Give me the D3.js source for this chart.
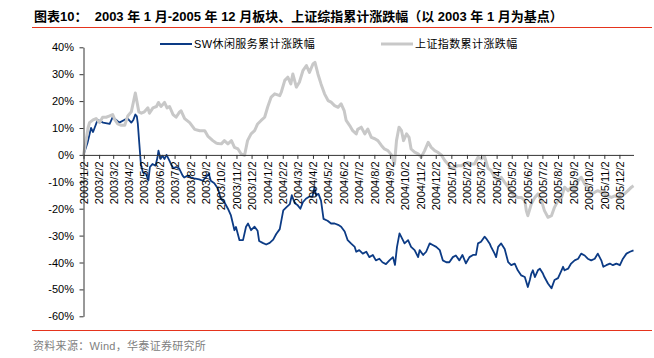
<!DOCTYPE html>
<html><head><meta charset="utf-8">
<script src="https://cdn.jsdelivr.net/npm/d3@7/dist/d3.min.js"></script>
<style>
html,body{margin:0;padding:0;background:#fff;}
svg{display:block;}
text{font-family:"Liberation Sans","Noto Sans CJK SC",sans-serif;}
</style></head>
<body>
<svg id="chart" width="654" height="358"></svg>
<script>
const titleText = "图表10：  2003 年 1 月-2005 年 12 月板块、上证综指累计涨跌幅（以 2003 年 1 月为基点）";
const sourceText = "资料来源：Wind，华泰证券研究所";
const seriesNames = ["SW休闲服务累计涨跌幅", "上证指数累计涨跌幅"];
const yTicks = [40, 30, 20, 10, 0, -10, -20, -30, -40, -50, -60];
const xTickLabels = ["2003/1/2","2003/2/2","2003/3/2","2003/4/2","2003/5/2","2003/6/2","2003/7/2","2003/8/2","2003/9/2","2003/10/2","2003/11/2","2003/12/2",
"2004/1/2","2004/2/2","2004/3/2","2004/4/2","2004/5/2","2004/6/2","2004/7/2","2004/8/2","2004/9/2","2004/10/2","2004/11/2","2004/12/2",
"2005/1/2","2005/2/2","2005/3/2","2005/4/2","2005/5/2","2005/6/2","2005/7/2","2005/8/2","2005/9/2","2005/10/2","2005/11/2","2005/12/2"];

// SW leisure services cumulative change (%)
const swDates = ["2003-01-02","2003-01-10","2003-01-17","2003-01-21","2003-01-24","2003-01-30","2003-02-10","2003-02-23","2003-03-01","2003-03-08","2003-03-14","2003-03-24","2003-03-31","2003-04-07","2003-04-11","2003-04-15","2003-04-18","2003-04-20","2003-04-23","2003-04-26","2003-04-30","2003-05-06","2003-05-11","2003-05-14","2003-05-19","2003-05-25","2003-05-29","2003-05-31","2003-06-04","2003-06-08","2003-06-12","2003-06-16","2003-06-20","2003-06-25","2003-06-29","2003-07-05","2003-07-11","2003-07-18","2003-07-21","2003-07-28","2003-08-04","2003-08-10","2003-08-20","2003-08-27","2003-09-02","2003-09-08","2003-09-12","2003-09-19","2003-09-26","2003-10-02","2003-10-09","2003-10-16","2003-10-22","2003-10-29","2003-11-01","2003-11-08","2003-11-15","2003-11-21","2003-11-25","2003-12-01","2003-12-08","2003-12-14","2003-12-17","2003-12-24","2003-12-31",
"2004-01-07","2004-01-14","2004-01-20","2004-01-27","2004-02-03","2004-02-09","2004-02-16","2004-02-20","2004-02-26","2004-03-02","2004-03-08","2004-03-13","2004-03-19","2004-03-26","2004-04-01","2004-04-05","2004-04-08","2004-04-13","2004-04-18","2004-04-23","2004-05-01","2004-05-08","2004-05-15","2004-05-22","2004-05-28","2004-06-04","2004-06-10","2004-06-17","2004-06-24","2004-06-27","2004-07-03","2004-07-10","2004-07-17","2004-07-23","2004-07-30","2004-08-05","2004-08-12","2004-08-18","2004-08-25","2004-09-01","2004-09-08","2004-09-12","2004-09-16","2004-09-21","2004-09-26","2004-10-01","2004-10-08","2004-10-14","2004-10-21","2004-10-28","2004-10-31","2004-11-07","2004-11-13","2004-11-20","2004-11-26","2004-12-03","2004-12-10","2004-12-16","2004-12-23","2004-12-29",
"2005-01-05","2005-01-11","2005-01-18","2005-01-24","2005-01-31","2005-02-07","2005-02-14","2005-02-20","2005-02-24","2005-03-02","2005-03-09","2005-03-12","2005-03-19","2005-03-22","2005-03-29","2005-04-01","2005-04-05","2005-04-11","2005-04-18","2005-04-25","2005-05-01","2005-05-08","2005-05-14","2005-05-21","2005-05-28","2005-06-03","2005-06-07","2005-06-10","2005-06-13","2005-06-17","2005-06-23","2005-06-27","2005-07-03","2005-07-06","2005-07-13","2005-07-20","2005-07-26","2005-08-02","2005-08-09","2005-08-12","2005-08-15","2005-08-22","2005-08-28","2005-09-04","2005-09-11","2005-09-17","2005-09-24","2005-09-30","2005-10-07","2005-10-14","2005-10-20","2005-10-27","2005-10-31","2005-11-06","2005-11-13","2005-11-19","2005-11-26","2005-12-03","2005-12-09","2005-12-16","2005-12-23","2005-12-30"];
const swValues = [0,4.5,10,8.5,10,13,12,11.5,14,13,12,13,13.5,12,13,15,14.3,11.5,4,-3.4,-6.5,-7,-9.5,-4.5,-3.4,-4,-1,1.6,-1.5,-0.3,-1.5,0,-1.5,-3.4,-5,-4.5,-5,-7.7,-8.4,-7.7,-8.4,-8.7,-9.1,-9.6,-8.4,-7,-9.6,-10.5,-12.5,-16.3,-17.6,-20,-22.5,-28,-26.8,-31.7,-31.7,-26.7,-25.5,-28,-26.7,-28.2,-32,-32.7,-33.3,
-32.7,-31.5,-29.4,-27.6,-20.6,-19.5,-18.3,-15,-18,-18.6,-20,-17.6,-16.3,-15.5,-15.5,-12,-15,-14.5,-17,-23.8,-24.5,-25.5,-25.5,-26,-26.7,-28.5,-31.7,-33,-34.2,-36,-35.4,-36.7,-36,-38,-37.2,-39.2,-38.6,-39.9,-40.6,-39.2,-38,-40.9,-34.2,-29.2,-31,-32.9,-31.7,-34.2,-35.4,-38,-35.4,-37.2,-36,-32.9,-33.5,-34.2,-35.4,-39.2,-39.9,-39.9,
-38,-37.4,-39.2,-37.2,-40.3,-38,-37.2,-37.2,-32.9,-32.3,-30.4,-31,-32.9,-34.2,-36.7,-38,-34.2,-32.9,-35,-39.9,-41,-40.4,-42.9,-44.8,-45.4,-49.1,-46.5,-44.1,-42.9,-45.4,-42.9,-42.3,-44.1,-45.4,-47.8,-49.6,-46.5,-45.8,-42.9,-41.6,-42.9,-42.3,-40.4,-39.2,-38.6,-36.7,-37.4,-38.6,-39.2,-38.6,-36.7,-39.2,-41.6,-41,-40.4,-41,-40.4,-41,-38.6,-36.7,-36,-35.5];

// Shanghai Composite cumulative change (%)
const sseDates = ["2003-01-02","2003-01-07","2003-01-11","2003-01-14","2003-01-21","2003-01-27","2003-02-03","2003-02-09","2003-02-16","2003-02-23","2003-03-01","2003-03-05","2003-03-11","2003-03-18","2003-03-25","2003-03-31","2003-04-07","2003-04-11","2003-04-15","2003-04-18","2003-04-22","2003-04-27","2003-05-03","2003-05-10","2003-05-13","2003-05-20","2003-05-27","2003-05-31","2003-06-05","2003-06-12","2003-06-17","2003-06-22","2003-06-29","2003-07-05","2003-07-12","2003-07-15","2003-07-22","2003-08-01","2003-08-11","2003-08-21","2003-08-31","2003-09-06","2003-09-16","2003-09-22","2003-09-26","2003-10-03","2003-10-09","2003-10-16","2003-10-23","2003-10-29","2003-11-05","2003-11-11","2003-11-18","2003-11-24","2003-12-01","2003-12-08","2003-12-14","2003-12-21","2003-12-28",
"2004-01-03","2004-01-10","2004-01-17","2004-01-27","2004-01-30","2004-02-06","2004-02-12","2004-02-18","2004-02-22","2004-02-29","2004-03-06","2004-03-13","2004-03-20","2004-03-26","2004-04-02","2004-04-06","2004-04-12","2004-04-18","2004-04-25","2004-05-02","2004-05-08","2004-05-15","2004-05-22","2004-05-28","2004-06-03","2004-06-07","2004-06-14","2004-06-20","2004-06-27","2004-06-30","2004-07-07","2004-07-14","2004-07-20","2004-07-27","2004-08-03","2004-08-09","2004-08-16","2004-08-22","2004-08-29","2004-09-05","2004-09-11","2004-09-15","2004-09-20","2004-09-25","2004-09-29","2004-10-05","2004-10-10","2004-10-14","2004-10-21","2004-10-28","2004-11-03","2004-11-10","2004-11-17","2004-11-23","2004-11-30","2004-12-06","2004-12-13","2004-12-20","2004-12-26",
"2005-01-02","2005-01-09","2005-01-15","2005-01-22","2005-01-28","2005-02-04","2005-02-11","2005-02-17","2005-02-24","2005-03-03","2005-03-09","2005-03-16","2005-03-22","2005-03-29","2005-04-05","2005-04-11","2005-04-18","2005-04-25","2005-05-01","2005-05-08","2005-05-14","2005-05-21","2005-05-28","2005-05-31","2005-06-03","2005-06-10","2005-06-17","2005-06-23","2005-06-30","2005-07-06","2005-07-13","2005-07-20","2005-07-26","2005-08-02","2005-08-09","2005-08-15","2005-08-22","2005-08-28","2005-09-04","2005-09-11","2005-09-17","2005-09-24","2005-09-30","2005-10-07","2005-10-14","2005-10-20","2005-10-27","2005-11-03","2005-11-09","2005-11-16","2005-11-23","2005-11-29","2005-12-06","2005-12-12","2005-12-19","2005-12-26","2005-12-30"];
const sseValues = [0,5.3,10,12,13,13.5,12,14,14,14.5,15,13.2,11.5,11,11,14.5,16,19.5,23,20,16,15.5,16,17.5,15.5,17.5,18,19.5,18,19.5,17.5,18,15,14,16,16.4,13.5,12,9.5,9,9,7,5.3,4.5,4.2,4.1,5.3,4.1,5.3,2.8,2.2,0.4,-0.2,5.3,7.8,9,11.5,12.8,14,
17.8,21.5,22.7,22,23.3,27.7,28.9,26.4,30.1,25.2,27,31.3,33.2,30.7,33.8,34.4,30,26.4,22.7,20.2,19.6,18.3,17.7,19,16.5,12.8,10.9,9,7.8,9.5,10.3,7.8,9.6,6.5,6,5.3,3.5,2.2,1.6,0,-3.4,5.3,10.3,9,5.3,7.8,6.5,2.2,1,0.4,-0.9,1.6,4.7,2.8,1.6,1,0,-2.1,-3.4,
-5,-4.6,-4,-4,-3.4,-2.8,-3.4,-3.4,-0.9,-1.5,-0.6,-5,-5.8,-8.3,-9.6,-8.3,-10.2,-12,-14,-15.2,-15.8,-15.8,-17,-20.7,-22.6,-18.2,-15.8,-14.5,-17,-20.7,-23.2,-22.6,-19.5,-17,-15.8,-12,-13.3,-12,-13.3,-9.6,-8.3,-10.8,-12,-14.5,-13.9,-13.3,-13.9,-14.5,-15.2,-15.8,-15.2,-15.8,-14.5,-14.5,-13.3,-12,-11.5];

const parse = d3.timeParse("%Y-%m-%d");
const parseTick = d3.timeParse("%Y/%m/%d");
const sw = swDates.map((d, i) => ({date: parse(d), v: swValues[i]}));
const sse = sseDates.map((d, i) => ({date: parse(d), v: sseValues[i]}));

const svg = d3.select("#chart");
const red = "#e5341d";
const blue = "#0c3b85";
const gray = "#c8c8c8";

// title
svg.append("text").attr("x", 34).attr("y", 21)
  .attr("font-size", 13).attr("font-weight", "bold").attr("fill", "#000")
  .style("white-space", "pre").text(titleText);
svg.append("line").attr("x1", 32).attr("x2", 652).attr("y1", 27.5).attr("y2", 27.5)
  .attr("stroke", red).attr("stroke-width", 1);

const x = d3.scaleTime().domain([parse("2003-01-02"), parse("2005-12-30")]).range([83.5, 633.5]);
const y = d3.scaleLinear().domain([-60, 40]).range([316.3, 47.3]);

// lines
const line = d3.line().x(d => x(d.date)).y(d => y(d.v));
svg.append("path").datum(sw).attr("d", line).attr("fill", "none")
  .attr("stroke", blue).attr("stroke-width", 1.8).attr("stroke-linejoin", "round");
svg.append("path").datum(sse).attr("d", line).attr("fill", "none")
  .attr("stroke", gray).attr("stroke-width", 3).attr("stroke-linejoin", "round");

// y axis
const yAxis = svg.append("g").attr("transform", "translate(83.5,0)")
  .call(d3.axisLeft(y).tickValues(yTicks).tickSize(4).tickSizeOuter(0).tickPadding(5.5).tickFormat(d => d + "%"));
yAxis.selectAll("text").attr("font-size", 11).attr("fill", "#000").style("font-family", '"Liberation Sans", sans-serif');
yAxis.selectAll("line, path").attr("stroke", "#333");

// x axis at 0
const xAxis = svg.append("g").attr("transform", `translate(0,${y(0)})`)
  .call(d3.axisBottom(x).tickValues(xTickLabels.map(parseTick)).tickSize(4).tickSizeOuter(0)
    .tickFormat((d, i) => xTickLabels[i]));
xAxis.selectAll("line, path").attr("stroke", "#333");
xAxis.selectAll("text")
  .attr("transform", "rotate(-90)")
  .attr("x", -6.5).attr("y", 0).attr("dy", "0.35em")
  .style("text-anchor", "end")
  .attr("font-size", 11).attr("fill", "#000").style("font-family", '"Liberation Sans", sans-serif');

// legend
const legend = [{name: seriesNames[0], color: blue, w: 2, x0: 160}, {name: seriesNames[1], color: gray, w: 3, x0: 381}];
const lg = svg.append("g").selectAll("g").data(legend).join("g");
lg.append("line").attr("x1", d => d.x0).attr("x2", d => d.x0 + 32).attr("y1", 44).attr("y2", 44)
  .attr("stroke", d => d.color).attr("stroke-width", d => d.w);
lg.append("text").attr("x", d => d.x0 + 34).attr("y", 44).attr("dy", "0.36em")
  .attr("font-size", 11).attr("fill", "#000").style("letter-spacing", "0.4px").text(d => d.name);

// source
svg.append("line").attr("x1", 32).attr("x2", 652).attr("y1", 330.5).attr("y2", 330.5)
  .attr("stroke", red).attr("stroke-width", 1);
svg.append("text").attr("x", 33).attr("y", 346).attr("dy", "0.36em")
  .attr("font-size", 11).attr("fill", "#808080").style("letter-spacing", "0.3px").text(sourceText);
</script>
</body></html>
